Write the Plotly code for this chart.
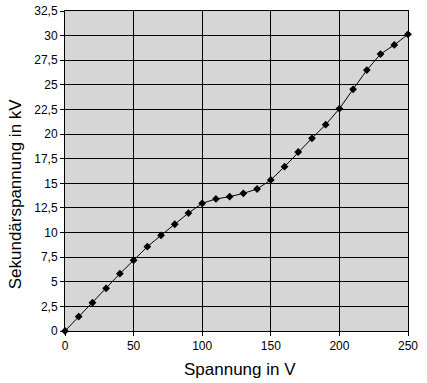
import plotly.graph_objects as go

spannung = [0, 10, 20, 30, 40, 50, 60, 70, 80, 90, 100, 110, 120, 130, 140,
            150, 160, 170, 180, 190, 200, 210, 220, 230, 240, 250]
sekundaer = [0, 1.46, 2.87, 4.33, 5.82, 7.18, 8.56, 9.72, 10.84, 11.98, 12.97,
             13.41, 13.64, 13.98, 14.42, 15.34, 16.69, 18.18, 19.57, 20.95,
             22.58, 24.55, 26.5, 28.13, 29.05, 30.13]

y_tickvals = [0, 2.5, 5, 7.5, 10, 12.5, 15, 17.5, 20, 22.5, 25, 27.5, 30, 32.5]
y_ticktext = ["0", "2,5", "5", "7,5", "10", "12,5", "15", "17,5", "20", "22,5",
              "25", "27,5", "30", "32,5"]
x_tickvals = [0, 50, 100, 150, 200, 250]
x_ticktext = ["0", "50", "100", "150", "200", "250"]

x_title = "Spannung in V"
y_title = "Sekundärspannung in kV"

fig = go.Figure()
fig.add_trace(go.Scatter(
    x=spannung, y=sekundaer, mode="lines+markers",
    line=dict(color="black", width=1),
    marker=dict(symbol="diamond", size=6, color="black"),
    cliponaxis=False,
))

font = "Liberation Sans, Arial, sans-serif"
fig.update_layout(
    width=427, height=383,
    margin=dict(l=65, r=19, t=11, b=52, autoexpand=False),
    paper_bgcolor="white",
    plot_bgcolor="#d6d6d6",
    showlegend=False,
    font=dict(family=font, color="black", size=12),
    separators=",.",
    annotations=[
        dict(text=x_title, xref="paper", yref="paper", x=0.51, y=-0.119,
             xanchor="center", yanchor="middle", showarrow=False,
             font=dict(size=17, family=font, color="black")),
        dict(text=y_title, xref="paper", yref="paper", x=-0.146, y=0.43,
             xanchor="center", yanchor="middle", showarrow=False, textangle=-90,
             font=dict(size=17, family=font, color="black")),
    ],
)
fig.update_xaxes(
    range=[0, 250], tickvals=x_tickvals, ticktext=x_ticktext,
    showgrid=True, gridcolor="black", gridwidth=1,
    showline=True, linecolor="black", linewidth=1, mirror=True,
    ticks="outside", ticklen=4, tickcolor="black",
    zeroline=False,
)
fig.update_yaxes(
    range=[0, 32.5], tickvals=y_tickvals, ticktext=y_ticktext,
    showgrid=True, gridcolor="black", gridwidth=1,
    showline=True, linecolor="black", linewidth=1, mirror=True,
    ticks="outside", ticklen=4, tickcolor="black",
    zeroline=False,
)

fig.write_html("out.html", config={"displayModeBar": False},
               post_script="document.body.style.margin='0';")
